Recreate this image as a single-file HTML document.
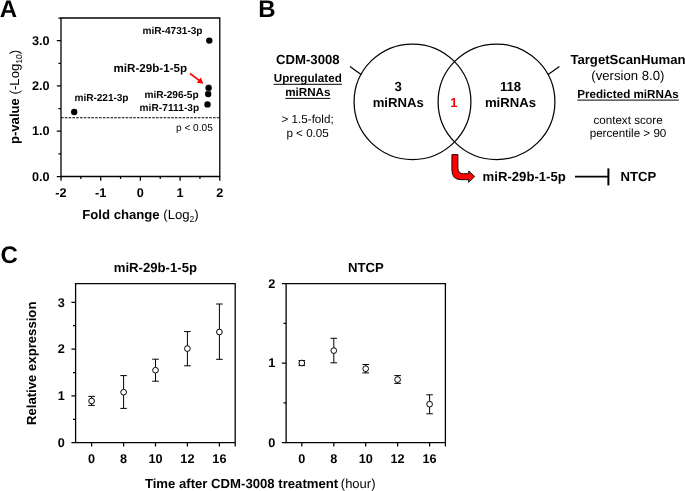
<!DOCTYPE html>
<html><head><meta charset="utf-8"><title>Figure</title>
<style>
html,body{margin:0;padding:0;background:#fff;}
body{width:685px;height:491px;overflow:hidden;}
svg{display:block;font-family:"Liberation Sans",sans-serif;text-rendering:geometricPrecision;will-change:transform;}
.b{font-weight:bold;}
.ax{stroke:#000;stroke-width:1.3;fill:none;}
.tk{stroke:#000;stroke-width:1.25;fill:none;}
.eb{stroke:#000;stroke-width:1;fill:none;}
.mk{stroke:#000;stroke-width:1;fill:#fff;}
</style></head><body>
<svg width="685" height="491" viewBox="0 0 685 491">
<rect x="0" y="0" width="685" height="491" fill="#fff"/>
<g style="opacity:0.999">

<text class="b" x="-0.3" y="17" font-size="24">A</text>
<text class="b" x="258.3" y="17" font-size="24">B</text>
<text class="b" x="0.6" y="262.8" font-size="24">C</text>
<path class="ax" d="M61.0,18.0H219.8V176.5H61.0Z"/>
<path class="tk" d="M56.8,176.50H61.0M58.4,153.86H61.0M56.8,131.21H61.0M58.4,108.57H61.0M56.8,85.93H61.0M58.4,63.29H61.0M56.8,40.64H61.0M58.4,18.00H61.0M61.00,176.5V180.7M80.85,176.5V179.1M100.70,176.5V180.7M120.55,176.5V179.1M140.40,176.5V180.7M160.25,176.5V179.1M180.10,176.5V180.7M199.95,176.5V179.1M219.80,176.5V180.7"/>
<text class="b" x="49.6" y="180.60" font-size="12.7" text-anchor="end">0.0</text>
<text class="b" x="49.6" y="135.31" font-size="12.7" text-anchor="end">1.0</text>
<text class="b" x="49.6" y="90.03" font-size="12.7" text-anchor="end">2.0</text>
<text class="b" x="49.6" y="44.74" font-size="12.7" text-anchor="end">3.0</text>
<text class="b" x="61.00" y="196.6" font-size="12.7" text-anchor="middle">-2</text>
<text class="b" x="100.70" y="196.6" font-size="12.7" text-anchor="middle">-1</text>
<text class="b" x="140.40" y="196.6" font-size="12.7" text-anchor="middle">0</text>
<text class="b" x="180.10" y="196.6" font-size="12.7" text-anchor="middle">1</text>
<text class="b" x="219.80" y="196.6" font-size="12.7" text-anchor="middle">2</text>
<path d="M61.0,117.7H219.8" stroke="#000" stroke-width="1.15" stroke-dasharray="2.6 1.2" fill="none"/>
<circle cx="209.3" cy="40.6" r="3.2" fill="#000"/>
<circle cx="208.2" cy="94.0" r="3.2" fill="#000"/>
<circle cx="207.5" cy="104.4" r="3.2" fill="#000"/>
<circle cx="74.2" cy="112.0" r="3.2" fill="#000"/>
<circle cx="208.65" cy="87.95" r="3.35" fill="#000" stroke="#fff" stroke-width="0.3"/>
<text class="b" x="142.5" y="34.3" font-size="10.1">miR-4731-3p</text>
<text class="b" x="113.5" y="71.6" font-size="11.6" textLength="73.6">miR-29b-1-5p</text>
<text class="b" x="144.5" y="98.3" font-size="10.1" textLength="54.1">miR-296-5p</text>
<text class="b" x="139.5" y="110.7" font-size="10.1" textLength="59.7">miR-7111-3p</text>
<text class="b" x="74.6" y="101.2" font-size="10.1" textLength="53.9">miR-221-3p</text>
<text x="176" y="131" font-size="10.1">p &lt; 0.05</text>
<path d="M190,73.5L199.5,80.7" stroke="#f00" stroke-width="1.6" fill="none"/>
<path d="M203.4,83.7L196.7,82.8L200.8,77.5Z" fill="#f00"/>
<text x="140.5" y="219" font-size="13.15" text-anchor="middle"><tspan class="b">Fold change</tspan> (Log<tspan font-size="8.5" dy="3">2</tspan><tspan dy="-3">)</tspan></text>
<text transform="translate(19.3,97) rotate(-90)" font-size="13.15" text-anchor="middle"><tspan class="b">p-value</tspan> (-Log<tspan font-size="8.5" dy="2.5">10</tspan><tspan dy="-2.5">)</tspan></text>
<ellipse cx="412.5" cy="101.8" rx="58.4" ry="57.8" stroke="#000" stroke-width="1.25" fill="none"/>
<ellipse cx="496.5" cy="101.8" rx="58.4" ry="57.8" stroke="#000" stroke-width="1.25" fill="none"/>
<path d="M350,66.4L361.4,74.7M559.4,66.4L547.8,74.7" stroke="#000" stroke-width="1.2" fill="none"/>
<text class="b" x="398.2" y="91" font-size="13.15" text-anchor="middle">3</text>
<text class="b" x="398.2" y="107" font-size="13.15" text-anchor="middle">miRNAs</text>
<text class="b" x="510.5" y="91" font-size="13.15" text-anchor="middle">118</text>
<text class="b" x="510.5" y="107" font-size="13.15" text-anchor="middle">miRNAs</text>
<text class="b" x="453.8" y="107" font-size="13" text-anchor="middle" fill="#f00">1</text>
<text class="b" x="307.8" y="64.4" font-size="13.15" text-anchor="middle">CDM-3008</text>
<text class="b" x="307.8" y="82" font-size="11.65" text-anchor="middle">Upregulated</text>
<text class="b" x="307.8" y="95.6" font-size="11.65" text-anchor="middle">miRNAs</text>
<text x="307.6" y="123.4" font-size="11.65" text-anchor="middle">&gt; 1.5-fold;</text>
<text x="307.6" y="137.4" font-size="11.65" text-anchor="middle">p &lt; 0.05</text>
<path d="M273.6,84.3H342M285.4,98.4H330.4M577.4,100.1H678.8" stroke="#000" stroke-width="1" fill="none"/>
<text class="b" x="570.4" y="64" font-size="13.15">TargetScanHuman</text>
<text x="627.8" y="80" font-size="13.15" text-anchor="middle">(version 8.0)</text>
<text class="b" x="628" y="97.6" font-size="11.65" text-anchor="middle">Predicted miRNAs</text>
<text x="628" y="123.5" font-size="11.65" text-anchor="middle">context score</text>
<text x="628" y="137.4" font-size="11.65" text-anchor="middle">percentile &gt; 90</text>
<path d="M451.9,154.6L457.9,154.6L457.9,168Q457.9,173.7 463.5,173.7L468.7,173.7L468.7,171L474.7,176.5L468.7,182.3L468.7,179.7L461,179.7Q451.9,179.7 451.9,170Z" fill="#f00" stroke="#000" stroke-width="0.9" stroke-linejoin="miter"/>
<text class="b" x="482.6" y="181" font-size="13.15">miR-29b-1-5p</text>
<path d="M575,176.6H608.4" stroke="#000" stroke-width="1.8" fill="none"/>
<path d="M608.4,168.4V185.4" stroke="#000" stroke-width="2" fill="none"/>
<text class="b" x="620.4" y="181" font-size="13.15">NTCP</text>
<path class="ax" d="M75.6,283.6H235.2V442.7H75.6Z"/>
<path class="tk" d="M71.39999999999999,442.70H75.6M73.0,419.30H75.6M71.39999999999999,395.90H75.6M73.0,372.50H75.6M71.39999999999999,349.10H75.6M73.0,325.70H75.6M71.39999999999999,302.30H75.6M91.6,442.7V446.5M123.6,442.7V446.5M155.5,442.7V446.5M187.4,442.7V446.5M219.4,442.7V446.5M235.2,442.7V446.5"/>
<text class="b" x="64.9" y="446.90" font-size="12.7" text-anchor="end">0</text>
<text class="b" x="64.9" y="400.10" font-size="12.7" text-anchor="end">1</text>
<text class="b" x="64.9" y="353.30" font-size="12.7" text-anchor="end">2</text>
<text class="b" x="64.9" y="306.50" font-size="12.7" text-anchor="end">3</text>
<text class="b" x="91.6" y="462.8" font-size="12.7" text-anchor="middle">0</text>
<text class="b" x="123.6" y="462.8" font-size="12.7" text-anchor="middle">8</text>
<text class="b" x="155.5" y="462.8" font-size="12.7" text-anchor="middle">10</text>
<text class="b" x="187.4" y="462.8" font-size="12.7" text-anchor="middle">12</text>
<text class="b" x="219.4" y="462.8" font-size="12.7" text-anchor="middle">16</text>
<path class="eb" d="M91.6,396.4V405.4M88.3,396.4H94.89999999999999M88.3,405.4H94.89999999999999M123.6,375.6V408.4M120.3,375.6H126.89999999999999M120.3,408.4H126.89999999999999M155.5,359.2V381.2M152.2,359.2H158.8M152.2,381.2H158.8M187.4,331.6V365.8M184.1,331.6H190.70000000000002M184.1,365.8H190.70000000000002M219.4,304V359.3M216.1,304H222.70000000000002M216.1,359.3H222.70000000000002"/>
<circle class="mk" cx="91.6" cy="401" r="2.85"/>
<circle class="mk" cx="123.6" cy="392.2" r="2.85"/>
<circle class="mk" cx="155.5" cy="370.2" r="2.85"/>
<circle class="mk" cx="187.4" cy="348.6" r="2.85"/>
<circle class="mk" cx="219.4" cy="332" r="2.85"/>
<path class="ax" d="M286.1,283.6H445.4V442.7H286.1Z"/>
<path class="tk" d="M281.90000000000003,442.70H286.1M283.5,402.95H286.1M281.90000000000003,363.20H286.1M283.5,323.45H286.1M281.90000000000003,283.70H286.1M301.8,442.7V446.5M333.8,442.7V446.5M365.7,442.7V446.5M397.6,442.7V446.5M429.6,442.7V446.5M445.4,442.7V446.5"/>
<text class="b" x="275.3" y="446.90" font-size="12.7" text-anchor="end">0</text>
<text class="b" x="275.3" y="367.40" font-size="12.7" text-anchor="end">1</text>
<text class="b" x="275.3" y="287.90" font-size="12.7" text-anchor="end">2</text>
<text class="b" x="301.8" y="462.8" font-size="12.7" text-anchor="middle">0</text>
<text class="b" x="333.8" y="462.8" font-size="12.7" text-anchor="middle">8</text>
<text class="b" x="365.7" y="462.8" font-size="12.7" text-anchor="middle">10</text>
<text class="b" x="397.6" y="462.8" font-size="12.7" text-anchor="middle">12</text>
<text class="b" x="429.6" y="462.8" font-size="12.7" text-anchor="middle">16</text>
<path class="eb" d="M301.8,360.6V365.6M298.5,360.6H305.1M298.5,365.6H305.1M333.8,338.3V362.8M330.5,338.3H337.1M330.5,362.8H337.1M365.7,364.5V372.9M362.4,364.5H369.0M362.4,372.9H369.0M397.6,375.6V383.4M394.3,375.6H400.90000000000003M394.3,383.4H400.90000000000003M429.6,394.8V413.8M426.3,394.8H432.90000000000003M426.3,413.8H432.90000000000003"/>
<circle class="mk" cx="301.8" cy="363" r="2.85"/>
<circle class="mk" cx="333.8" cy="350.6" r="2.85"/>
<circle class="mk" cx="365.7" cy="368.7" r="2.85"/>
<circle class="mk" cx="397.6" cy="379.6" r="2.85"/>
<circle class="mk" cx="429.6" cy="404.2" r="2.85"/>
<text class="b" x="155.4" y="271.6" font-size="13.15" text-anchor="middle">miR-29b-1-5p</text>
<text class="b" x="365.8" y="271.6" font-size="13.15" text-anchor="middle">NTCP</text>
<text transform="translate(36.3,363.3) rotate(-90)" class="b" font-size="13.15" text-anchor="middle">Relative expression</text>
<text class="b" x="144.9" y="488" font-size="13.15">Time after CDM-3008 treatment</text>
<text x="340.8" y="488" font-size="13">(hour)</text>
</g></svg></body></html>
